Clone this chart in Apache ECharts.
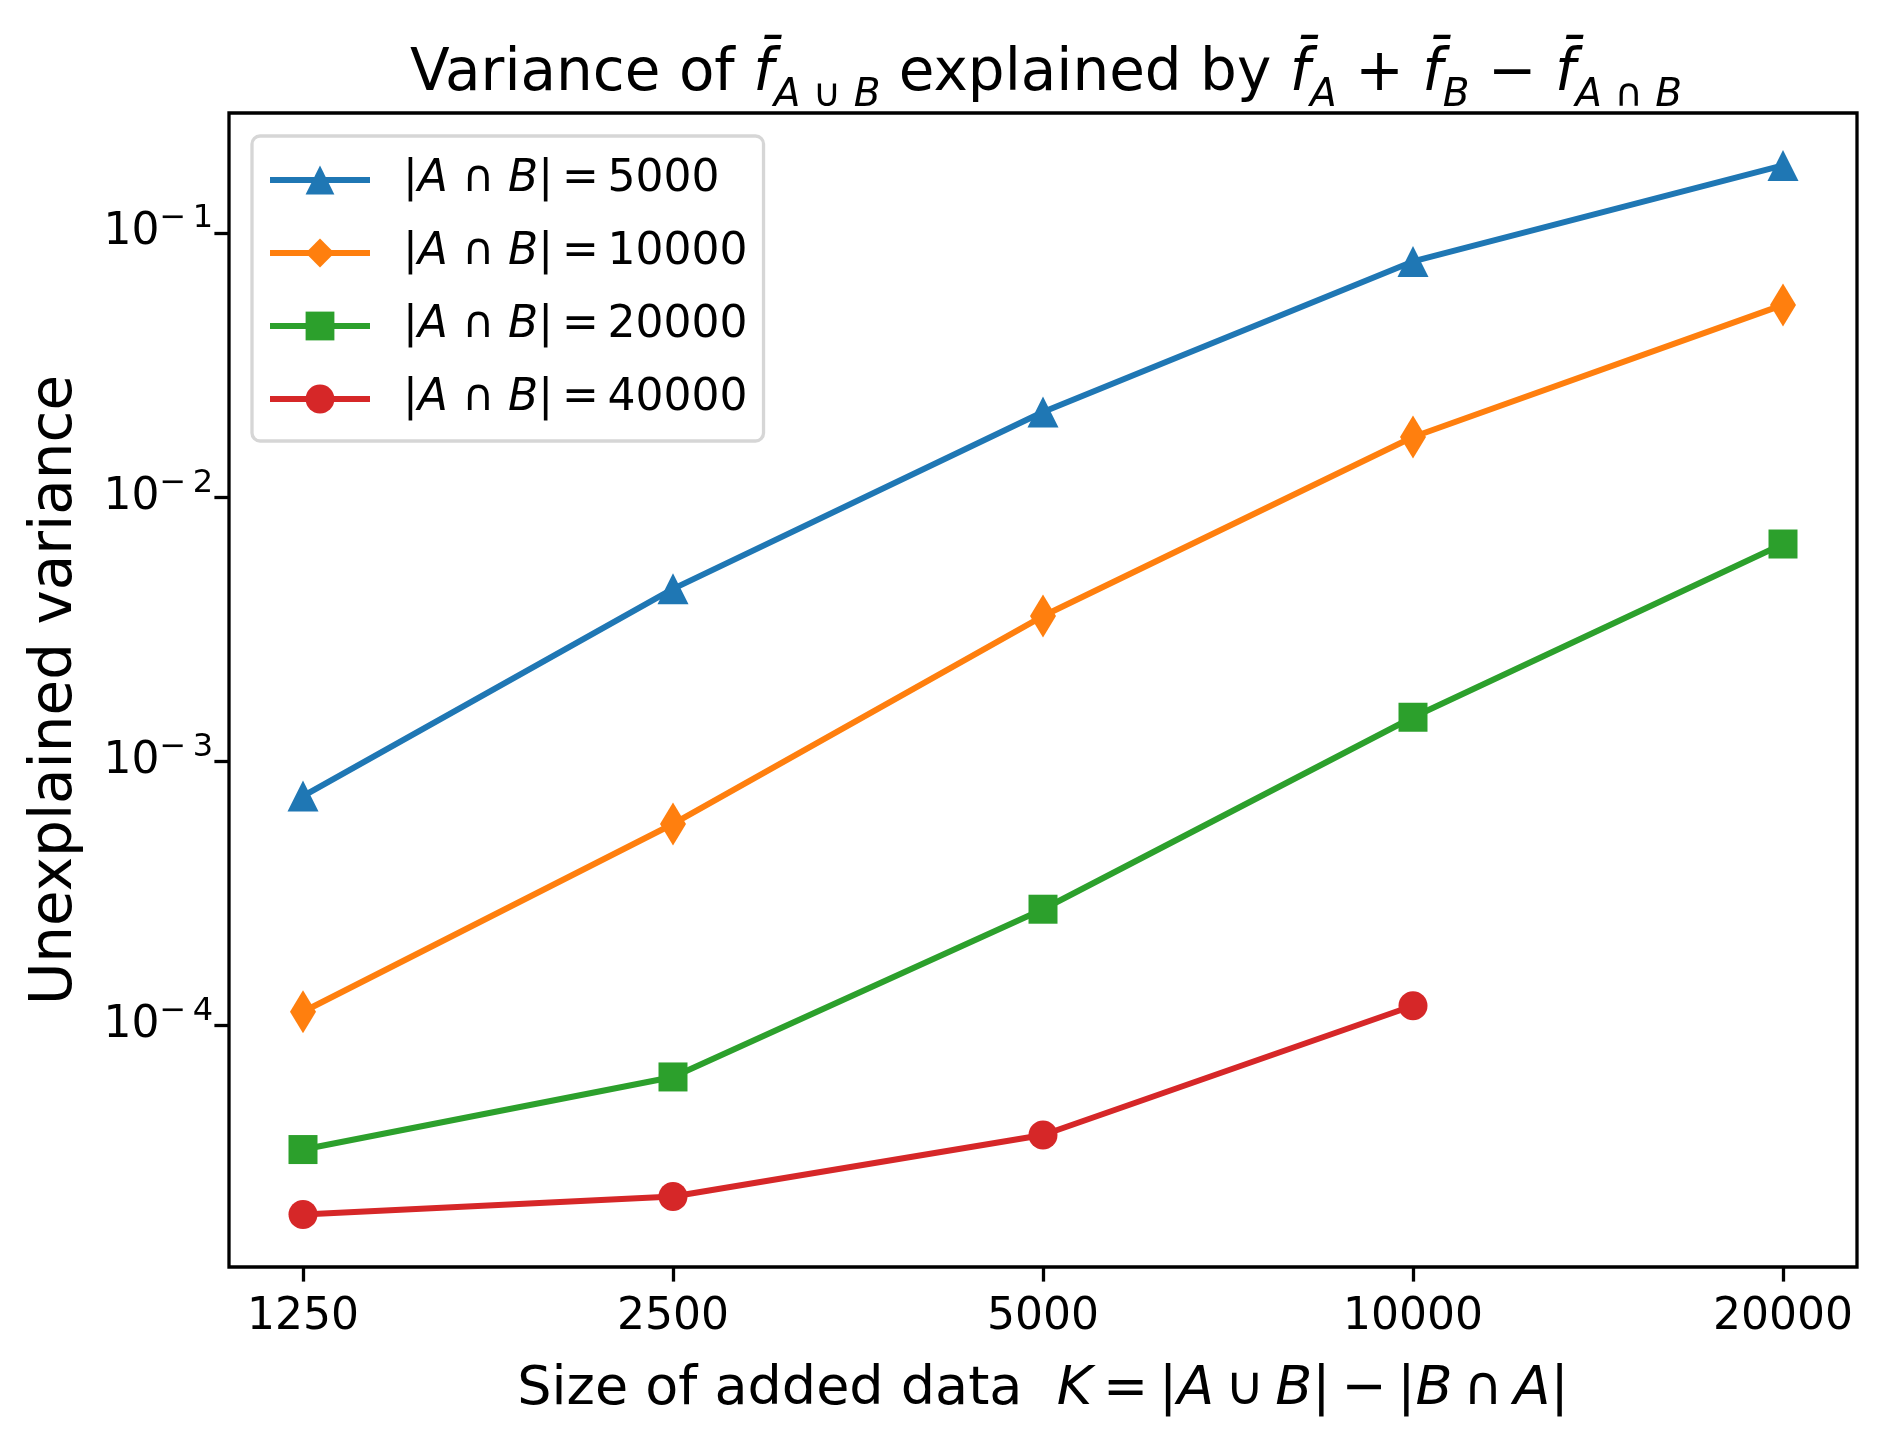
<!DOCTYPE html>
<html><head><meta charset="utf-8">
<script src="https://cdn.jsdelivr.net/npm/echarts@6/dist/echarts.min.js"></script>
<style>html,body{margin:0;padding:0;background:#fff}#c{width:1886px;height:1446px}</style>
</head><body><div id="c"></div>
<script>
// ---- data ----
const sizes = [1250, 2500, 5000, 10000, 20000];          // K = |A∪B| - |B∩A|
const overlaps = ['5000', '10000', '20000', '40000'];      // |A∩B|
const var5000  = [7.4e-4, 4.5e-3, 0.021, 0.078, 0.18];
const var10000 = [1.13e-4, 5.8e-4, 3.55e-3, 0.0169, 0.0534];
const var20000 = [3.4e-5, 6.4e-5, 2.76e-4, 1.47e-3, 6.65e-3];
const var40000 = [1.93e-5, 2.26e-5, 3.86e-5, 1.19e-4];
const xTicks = [1250, 2500, 5000, 10000, 20000];
const yTicks = [1e-4, 1e-3, 1e-2, 1e-1];

const FF = 'DejaVu Sans';
const TS = '\u2009'; // thin space
const colors = ['#1f77b4', '#ff7f0e', '#2ca02c', '#d62728'];
const symbols = ['triangle', 'diamond', 'rect', 'circle'];
const symSizes = [[31, 31], [26, 43], [29, 29], [29, 29]];
const seriesVals = [var5000, var10000, var20000, var40000];

// axis extents with 5% (log-space) margins like matplotlib
const allV = seriesVals.flat();
const lyMin = Math.log10(Math.min(...allV)), lyMax = Math.log10(Math.max(...allV));
const ly = (lyMax - lyMin) * 0.05;
const lxMin = Math.log2(sizes[0]), lxMax = Math.log2(sizes[sizes.length - 1]);
const lx = (lxMax - lxMin) * 0.05;

const chart = echarts.init(document.getElementById('c'), null, {renderer: 'canvas'});

const series = seriesVals.map((vals, k) => ({
  name: overlaps[k],
  type: 'line',
  data: vals.map((v, i) => [sizes[i], v]),
  symbol: symbols[k],
  symbolSize: symSizes[k],
  showSymbol: true,
  lineStyle: {color: colors[k], width: 6},
  itemStyle: {color: colors[k], borderWidth: 0},
  color: colors[k],
  z: 2 + k,
  animation: false
}));

const option = {
  animation: false,
  backgroundColor: '#fff',
  title: {
    text: 'Variance of {f|f\u0304}{si|A}{s| \u222a }{si|B} explained by {f|f\u0304}{si|A}{t| + }{f|f\u0304}{si|B}{t| \u2212 }{f|f\u0304}{si|A}{s| \u2229 }{si|B}',
    left: 1041, top: 30, textAlign: 'center',
    textStyle: {
      fontFamily: FF, fontSize: 58, fontWeight: 'normal', color: '#000', lineHeight: 80,
      rich: {
        t: {fontFamily: FF, fontSize: 58, lineHeight: 80, color: '#000'},
        f: {fontFamily: FF, fontSize: 58, lineHeight: 80, fontStyle: 'italic', color: '#000'},
        si: {fontFamily: FF, fontSize: 39, lineHeight: 38, fontStyle: 'italic', verticalAlign: 'bottom', color: '#000'},
        s: {fontFamily: FF, fontSize: 39, lineHeight: 38, verticalAlign: 'bottom', color: '#000'}
      }
    }
  },
  legend: {
    orient: 'vertical', left: 252, top: 136,
    itemWidth: 100, itemHeight: 36, itemGap: 23,
    padding: [19, 16, 17, 15],
    backgroundColor: 'rgba(255,255,255,0.8)', borderColor: '#d6d6d6', borderWidth: 3.3, borderRadius: 8,
    lineStyle: {width: 6},
    data: overlaps,
    formatter: n => '{g|}{t||}{i|A}{t| \u2229 }{i|B}{t||' + TS + '=' + TS + n + '}',
    textStyle: {
      fontFamily: FF, fontSize: 44, color: '#000', lineHeight: 50,
      rich: {
        g: {width: 28, lineHeight: 50},
        t: {fontFamily: FF, fontSize: 44, lineHeight: 50, color: '#000'},
        i: {fontFamily: FF, fontSize: 44, lineHeight: 50, fontStyle: 'italic', color: '#000'}
      }
    }
  },
  grid: {
    left: 229, top: 113, width: 1628, height: 1154,
    show: true, borderColor: '#000', borderWidth: 3.3, backgroundColor: 'transparent',
    containLabel: false
  },
  xAxis: {
    type: 'log', logBase: 2,
    min: Math.pow(2, lxMin - lx), max: Math.pow(2, lxMax + lx),
    axisLine: {show: false},
    splitLine: {show: false},
    minorTick: {show: false},
    axisTick: {show: true, inside: false, length: 14.6, lineStyle: {color: '#000', width: 3.3}, customValues: xTicks},
    axisLabel: {customValues: xTicks, fontFamily: FF, fontSize: 44, color: '#000', margin: 29,
      formatter: v => String(Math.round(v))},
    name: 'Size of added data  {i|K}' + TS + '=' + TS + '|{i|A}' + TS + '\u222a' + TS + '{i|B}|' + TS + '\u2212' + TS + '|{i|B}' + TS + '\u2229' + TS + '{i|A}|',
    nameLocation: 'middle', nameGap: 93,
    nameTextStyle: {fontFamily: FF, fontSize: 54, color: '#000', lineHeight: 60,
      rich: {i: {fontFamily: FF, fontSize: 54, lineHeight: 60, fontStyle: 'italic', color: '#000'}}}
  },
  yAxis: {
    type: 'log', logBase: 10,
    min: Math.pow(10, lyMin - ly), max: Math.pow(10, lyMax + ly),
    axisLine: {show: false},
    splitLine: {show: false},
    minorTick: {show: false},
    axisTick: {show: true, inside: false, length: 14.6, lineStyle: {color: '#000', width: 3.3}, customValues: yTicks},
    axisLabel: {customValues: yTicks, fontFamily: FF, color: '#000', margin: 16,
      formatter: v => '{b|10}{s|\u2212' + TS + Math.round(-Math.log10(v)) + '}',
      rich: {
        b: {fontFamily: FF, fontSize: 44, lineHeight: 60, color: '#000'},
        s: {fontFamily: FF, fontSize: 32, lineHeight: 36, verticalAlign: 'top', color: '#000'}
      }
    },
    name: 'Unexplained variance',
    nameLocation: 'middle', nameGap: 143,
    nameTextStyle: {fontFamily: FF, fontSize: 58, color: '#000', lineHeight: 60}
  },
  series: series
};
chart.setOption(option);
</script>
</body></html>
